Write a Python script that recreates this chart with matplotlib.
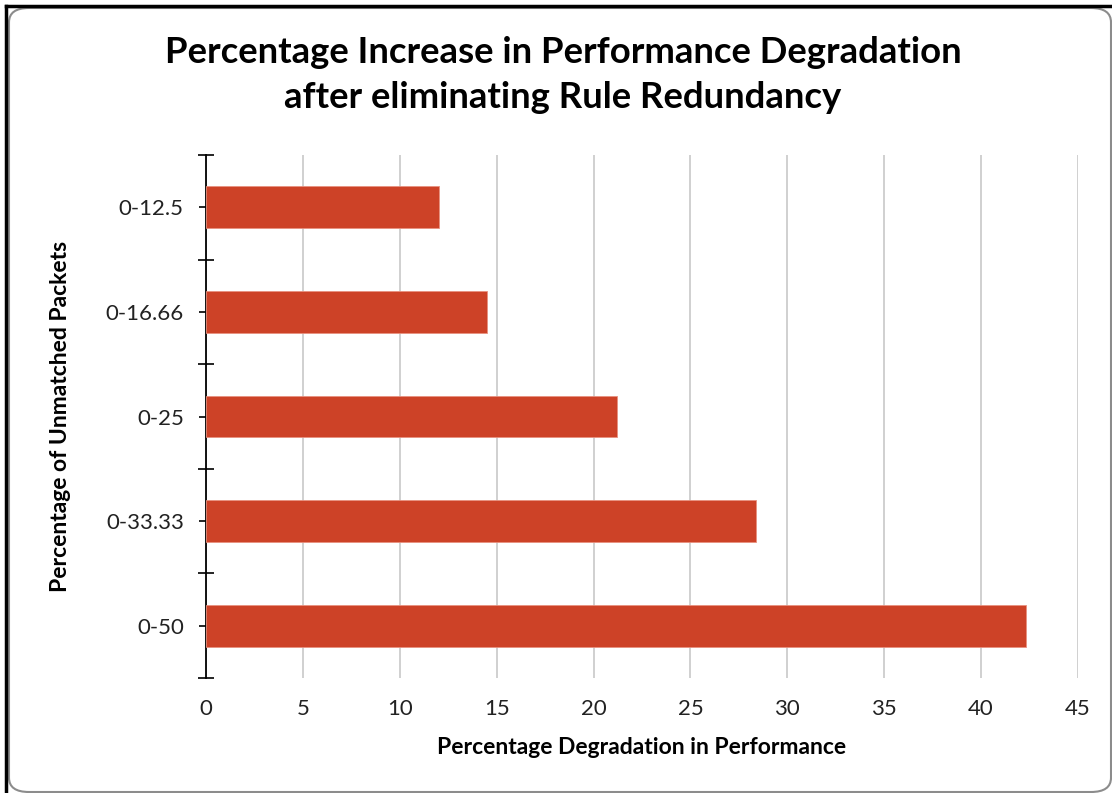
import matplotlib
matplotlib.use("Agg")
import matplotlib.pyplot as plt
from matplotlib.patches import FancyBboxPatch
from matplotlib.lines import Line2D
import numpy as np

plt.rcParams['font.family'] = ['Lato', 'DejaVu Sans']

categories = ["0-12.5", "0-16.66", "0-25", "0-33.33", "0-50"]
degradation = [12.0, 14.5, 21.2, 28.4, 42.3]
x_ticks = [0, 5, 10, 15, 20, 25, 30, 35, 40, 45]

title = "Percentage Increase in Performance Degradation\nafter eliminating Rule Redundancy"
x_label = "Percentage Degradation in Performance"
y_label = "Percentage of Unmatched Packets"

W, H = 1112, 793
fig = plt.figure(figsize=(W / 100, H / 100), dpi=100)
fig.patch.set_facecolor("white")

# chart frame: rounded grey border plus dark edge lines at top and left
frame = FancyBboxPatch((9 / W, 1 / H), (1102) / W, (784) / H,
                       boxstyle="round,pad=0,rounding_size=0.018",
                       transform=fig.transFigure, facecolor="none",
                       edgecolor="#8c8c8c", linewidth=1.5, zorder=0)
fig.patches.append(frame)
fig.add_artist(Line2D([6 / W, 1], [1 - 6 / H, 1 - 6 / H], transform=fig.transFigure,
                      color="black", linewidth=2.5))
fig.add_artist(Line2D([6 / W, 6 / W], [0, 1 - 6 / H], transform=fig.transFigure,
                      color="black", linewidth=2.5))

ax = fig.add_axes([206 / W, 1 - 678 / H, (1078 - 206) / W, (678 - 155) / H])
ax.set_facecolor("none")
ax.set_zorder(2)

# categories drawn top-to-bottom in list order
ypos = np.arange(len(categories))[::-1]
ax.barh(ypos, degradation, height=0.4, color="#CD4227",
        edgecolor="#E8917F", linewidth=0.6, zorder=3)

ax.set_xlim(0, 45)
ax.set_ylim(-0.5, len(categories) - 0.5)

ax.set_xticks(x_ticks)
ax.set_xticklabels([str(v) for v in x_ticks])
ax.tick_params(axis="x", length=0, pad=15, labelsize=16, labelcolor="#222222")
ax.grid(axis="x", color="#D0D0D0", linewidth=1.4, zorder=0)

# category boundary ticks crossing the axis, short outer ticks at category centres
ax.set_yticks(np.arange(-0.5, len(categories), 1.0))
ax.set_yticklabels([])
ax.tick_params(axis="y", which="major", direction="inout", length=11, width=1.2,
               color="black")
ax.set_yticks(ypos, minor=True)
ax.set_yticklabels(categories, minor=True)
ax.tick_params(axis="y", which="minor", direction="out", length=5, width=1.2,
               color="black", pad=11, labelsize=16, labelcolor="#222222")

for s in ["top", "right", "bottom"]:
    ax.spines[s].set_visible(False)
ax.spines["left"].set_linewidth(1.3)
ax.spines["left"].set_color("black")

ax.set_xlabel(x_label, fontsize=16.5, fontweight="bold", labelpad=13)
ax.set_ylabel(y_label, fontsize=16.5, fontweight="bold", labelpad=25)

fig.text(563 / W, 1 - 75 / H, title, ha="center", va="center",
         fontsize=26.3, fontweight="bold", linespacing=1.42)

fig.savefig("out.png", dpi=100, facecolor="white")
